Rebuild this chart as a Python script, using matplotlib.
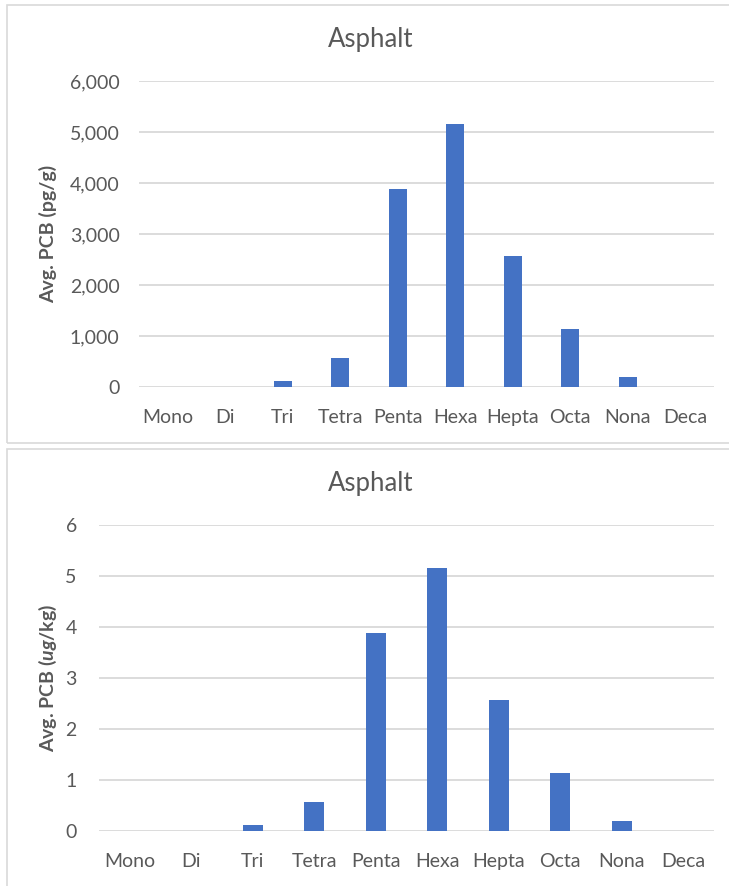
import matplotlib
matplotlib.use("Agg")
import matplotlib.pyplot as plt
from matplotlib.patches import Rectangle
from matplotlib.ticker import FuncFormatter

# homolog groups and average PCB concentrations
homologs = ["Mono", "Di", "Tri", "Tetra", "Penta", "Hexa", "Hepta", "Octa", "Nona", "Deca"]
pcb_pg_g = [0, 0, 118, 570, 3880, 5150, 2560, 1140, 200, 0]
pcb_ug_kg = [v / 1000.0 for v in pcb_pg_g]

plt.rcParams['font.family'] = ['Lato', 'DejaVu Sans']
plt.rcParams['mathtext.fontset'] = 'custom'
plt.rcParams['mathtext.it'] = 'Lato:italic:bold'
plt.rcParams['mathtext.rm'] = 'Lato:bold'

W, H = 729, 886
txt = '#595959'
grid = '#d9d9d9'
bar_c = '#4472C4'

fig = plt.figure(figsize=(W / 100, H / 100), dpi=100)

def px(x0, y0, x1, y1):
    # pixel box -> figure coords [left, bottom, width, height]
    return [x0 / W, 1 - y1 / H, (x1 - x0) / W, (y1 - y0) / H]

# panel borders
fig.patches.append(Rectangle((7 / W, 1 - 443 / H), 1.0, (443 - 5) / H, transform=fig.transFigure,
                             fill=False, edgecolor=grid, lw=1.2))
fig.patches.append(Rectangle((7 / W, -0.1), 1.0, 0.1 + (886 - 449) / H, transform=fig.transFigure,
                             fill=False, edgecolor=grid, lw=1.2))

def panel(box, vals, ymax, fmt, ylabel, title_y, pad_y):
    ax = fig.add_axes(px(*box))
    x = range(len(homologs))
    ax.bar(x, vals, width=0.32, color=bar_c, zorder=3)
    ax.set_xlim(-0.5, len(homologs) - 0.5)
    ax.set_ylim(0, ymax)
    ax.set_yticks([ymax / 6 * i for i in range(7)])
    ax.yaxis.set_major_formatter(FuncFormatter(fmt))
    ax.set_xticks(list(x))
    ax.set_xticklabels(homologs)
    ax.grid(axis='y', color=grid, lw=1.3, zorder=0)
    for s in ax.spines.values():
        s.set_visible(False)
    ax.tick_params(length=0, labelsize=14, colors=txt)
    ax.tick_params(axis='x', pad=16)
    ax.tick_params(axis='y', pad=pad_y)
    cy = 1 - (box[1] + box[3]) / 2 / H
    fig.text(48 / W, cy, ylabel, rotation=90, ha='center', va='center',
             fontsize=14, fontweight='bold', color=txt)
    fig.text(371 / W, 1 - title_y / H, "Asphalt", ha='center', va='center',
             fontsize=18.5, color=txt)
    return ax

panel((139, 81, 714, 387), pcb_pg_g, 6000, lambda v, p: f"{v:,.0f}",
      "Avg. PCB (pg/g)", 40, 14)
panel((99, 525, 714, 831), pcb_ug_kg, 6, lambda v, p: f"{v:.0f}",
      r"Avg. PCB ($\mathit{ug}$/kg)", 484, 16)

fig.savefig("out.png", dpi=100, facecolor='white')
